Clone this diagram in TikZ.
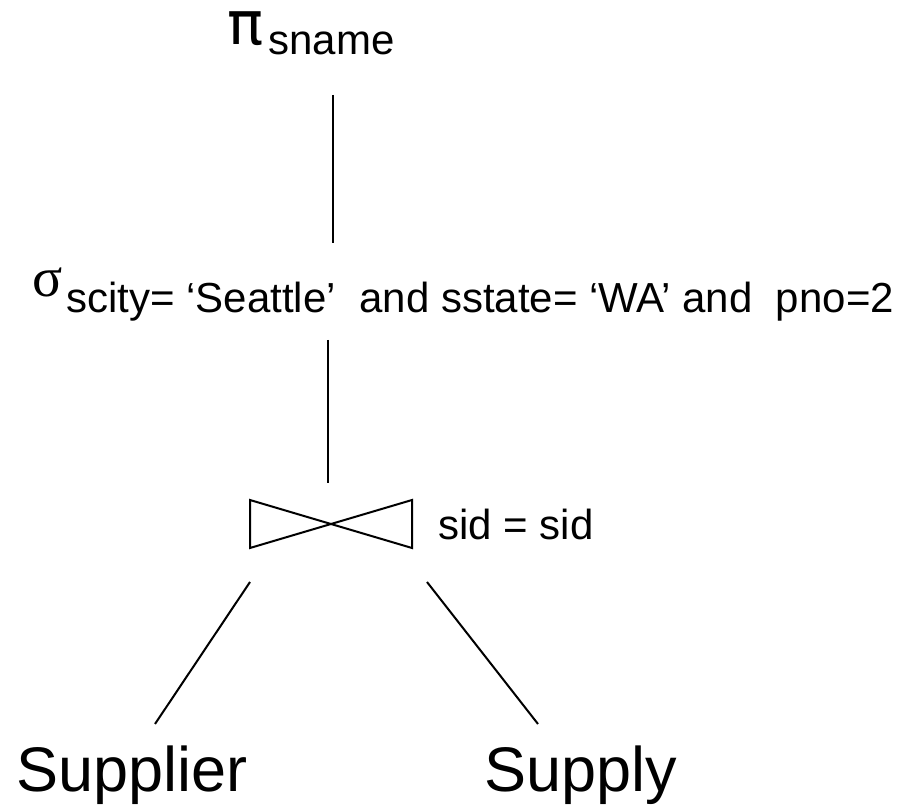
\documentclass[tikz,border=0pt]{standalone}
\usepackage{fontspec}
\setmainfont{Liberation Sans}
\newfontfamily\greeksans{DejaVu Sans}
\newfontfamily\greekserif{Liberation Serif}
\usepackage{tikz}
\usetikzlibrary{
  calc,
  positioning
}
\tikzset{
  op/.style={inner sep=0pt,anchor=base west},
  rel/.style={inner sep=0pt,anchor=base west,font=\fontsize{31.5pt}{34pt}\selectfont},
  lab/.style={inner sep=0pt,anchor=west,font=\fontsize{21pt}{24pt}\selectfont},
  edge/.style={line width=1pt,draw=black}
}
\newcommand{\Sub}[2]{\raisebox{-#1}{\fontsize{21pt}{24pt}\selectfont #2}}

\begin{document}
\begin{tikzpicture}[x=0.5pt,y=-0.5pt]
  \useasboundingbox (0,0) rectangle (917,807);
  \node[op] (proj) at (227,45)
    {\makebox[20.5pt][l]{\greeksans\fontsize{30pt}{32pt}\selectfont π}\Sub{5pt}{sname}};
  \node[op] (sel) at (32,297)
    {\makebox[17pt][l]{\greekserif\fontsize{28pt}{30pt}\selectfont σ}%
     \Sub{8pt}{scity= ‘Seattle’\ \ and sstate= ‘WA’ and\ \ pno=2}};
  % join symbol
  \coordinate (join) at (331,524);
  \draw[edge] (250,500) -- (412,548) -- (412,500) -- (250,548) -- cycle;
  \node[lab] (cond) at (438,524) {sid = sid};
  \node[rel] (supplier) at (16,792) {Supplier};
  \node[rel] (supply) at (484,792) {Supply};
  % connectors
  \coordinate (p1) at (333,95);  \coordinate (s1) at (333,243);
  \coordinate (s2) at (328,340); \coordinate (j1) at (328,483);
  \coordinate (jl) at (250,582); \coordinate (l1) at (155,724);
  \coordinate (jr) at (427,582); \coordinate (r1) at (538,724);
  \draw[edge] (p1) -- (s1);
  \draw[edge] (s2) -- (j1);
  \draw[edge] (jl) -- (l1);
  \draw[edge] (jr) -- (r1);
\end{tikzpicture}
\end{document}
